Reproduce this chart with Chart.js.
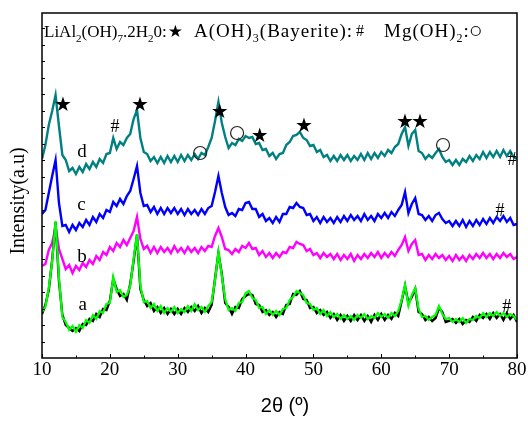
<!DOCTYPE html>
<html>
<head>
<meta charset="utf-8">
<script src="https://cdn.jsdelivr.net/npm/chart.js@4.4.0/dist/chart.umd.min.js"></script>
<style>
  html, body { margin: 0; padding: 0; background: #fff; }
  #wrap { width: 528px; height: 425px; }
</style>
</head>
<body>
<div id="wrap"><canvas id="xrdChart" width="528" height="425"></canvas></div>
<script>
// 2-theta sampling grid (degrees), 10 to 80 every 0.5
const twoTheta = [];
for (let i = 0; i <= 140; i++) twoTheta.push(10 + i * 0.5);

// intensities (arbitrary units, traces already stacked)
const sampleA = [
  46, 51, 70, 97, 137, 80, 41, 36, 28, 32,
  26, 33, 30, 38, 35, 43, 39, 47, 45, 54,
  55, 81, 66, 68, 61, 63, 72, 99, 124, 72,
  56, 57, 50, 54, 47, 52, 45, 50, 46, 51,
  45, 49, 46, 52, 47, 54, 48, 51, 46, 52,
  56, 78, 106, 82, 59, 48, 50, 47, 55, 56,
  65, 67, 60, 58, 50, 51, 44, 48, 43, 47,
  43, 49, 50, 58, 61, 67, 65, 63, 55, 54,
  48, 50, 44, 48, 42, 46, 41, 44, 39, 43,
  39, 42, 38, 43, 40, 44, 39, 42, 40, 45,
  41, 44, 40, 45, 42, 47, 58, 73, 52, 63,
  70, 49, 41, 42, 38, 41, 43, 52, 44, 39,
  40, 36, 39, 36, 40, 35, 39, 38, 42, 40,
  45, 41, 45, 42, 46, 42, 45, 41, 44, 42,
  38
];
const sampleARaw = [
  44, 53, 68, 98, 136, 77, 43, 33, 30, 27,
  30, 27, 34, 33, 39, 37, 44, 41, 49, 48,
  57, 79, 69, 62, 64, 58, 74, 97, 123, 69,
  58, 52, 55, 47, 51, 45, 50, 44, 49, 44,
  49, 44, 50, 46, 51, 47, 52, 45, 50, 46,
  53, 79, 105, 84, 55, 51, 44, 51, 50, 59,
  62, 64, 63, 54, 53, 46, 48, 43, 46, 41,
  46, 44, 53, 54, 64, 63, 67, 59, 58, 50,
  51, 45, 48, 43, 46, 40, 44, 38, 43, 37,
  42, 37, 43, 38, 43, 37, 42, 36, 43, 38,
  44, 38, 43, 39, 45, 42, 57, 72, 55, 61,
  69, 46, 44, 38, 41, 37, 40, 50, 46, 36,
  37, 39, 35, 39, 34, 38, 36, 41, 37, 43,
  40, 44, 39, 45, 40, 44, 38, 45, 39, 43,
  36
];
const sampleB = [
  92, 94, 108, 115, 131, 109, 99, 89, 93, 85,
  92, 88, 95, 91, 98, 94, 102, 98, 106, 103,
  111, 107, 115, 111, 118, 113, 120, 127, 141, 119,
  109, 112, 105, 111, 105, 111, 106, 110, 105, 112,
  106, 110, 105, 111, 106, 110, 105, 111, 107, 112,
  111, 122, 130, 121, 109, 108, 104, 109, 106, 112,
  110, 115, 109, 110, 103, 107, 101, 105, 100, 105,
  101, 106, 105, 111, 110, 116, 114, 113, 107, 109,
  103, 105, 100, 105, 101, 104, 99, 104, 98, 103,
  99, 104, 97, 103, 99, 104, 100, 105, 101, 106,
  100, 105, 101, 106, 102, 108, 113, 121, 107, 114,
  118, 103, 104, 98, 103, 99, 104, 100, 103, 98,
  102, 97, 103, 98, 102, 97, 103, 99, 104, 100,
  105, 100, 104, 99, 104, 100, 105, 101, 104, 99,
  101
];
const sampleC = [
  144, 148, 165, 182, 198, 155, 132, 133, 126, 133,
  128, 135, 131, 138, 133, 141, 136, 144, 140, 148,
  146, 156, 152, 159, 154, 162, 167, 179, 192, 165,
  152, 153, 146, 151, 144, 150, 144, 150, 145, 150,
  144, 149, 143, 149, 144, 148, 143, 149, 144, 150,
  152, 166, 182, 165, 151, 143, 145, 142, 149, 148,
  155, 156, 149, 149, 141, 144, 137, 140, 135, 141,
  136, 144, 144, 151, 150, 155, 151, 150, 143, 144,
  137, 141, 135, 141, 136, 140, 135, 141, 136, 142,
  137, 143, 138, 142, 137, 144, 138, 142, 137, 144,
  140, 145, 140, 146, 142, 148, 153, 166, 145, 154,
  160, 144, 143, 138, 142, 137, 143, 145, 139, 135,
  137, 132, 137, 132, 138, 131, 137, 132, 138, 133,
  139, 134, 140, 135, 141, 137, 142, 136, 140, 133,
  134
];
const sampleD = [
  199, 213, 233, 247, 263, 232, 203, 198, 187, 190,
  184, 191, 186, 194, 189, 196, 191, 199, 195, 204,
  205, 220, 209, 216, 213, 220, 224, 239, 248, 220,
  206, 204, 197, 201, 195, 201, 195, 202, 196, 202,
  196, 203, 197, 203, 198, 204, 199, 205, 203, 211,
  220, 237, 256, 235, 221, 210, 215, 213, 219, 217,
  222, 220, 221, 214, 215, 208, 209, 202, 205, 199,
  204, 205, 213, 216, 222, 223, 226, 220, 218, 212,
  213, 206, 208, 201, 203, 197, 202, 197, 203, 198,
  203, 197, 202, 198, 204, 198, 205, 199, 205, 200,
  206, 202, 208, 205, 211, 214, 224, 231, 212, 224,
  228, 207, 205, 199, 203, 200, 205, 209, 201, 196,
  198, 193, 198, 193, 199, 196, 202, 197, 203, 199,
  206, 200, 206, 201, 207, 201, 208, 202, 207, 201,
  199
];
const xTicks = [10, 20, 30, 40, 50, 60, 70, 80];

// phase markers placed in data coordinates (2theta, intensity)
const starMarks = [[13.1, 252], [24.45, 252], [36.2, 245], [42.1, 221], [48.6, 231], [63.5, 235], [65.7, 235]];
const circleMarks = [[33.3, 205], [38.75, 225], [69.1, 213]];
const hashMarks = [[20.75, 231], [79.25, 198], [77.5, 147], [78.5, 51]];
const traceLabels = [['d', 15.9, 206], ['c', 15.8, 153], ['b', 15.9, 101], ['a', 16.0, 53]];

function toPoints(values) {
    return values.map((v, i) => ({ x: twoTheta[i], y: v }));
}

const SERIF = '"Liberation Serif", "Times New Roman", serif';

function drawRun(ctx, parts, x, base, size, spacing) {
    ctx.letterSpacing = spacing + 'px';
    parts.forEach(p => {
        const sub = p[1];
        ctx.font = (sub ? Math.round(size * 0.62) : size) + 'px ' + SERIF;
        ctx.fillText(p[0], x, base + (sub ? 5 : 0));
        x += ctx.measureText(p[0]).width;
    });
    ctx.letterSpacing = '0px';
    return x;
}

const decorPlugin = {
    id: 'decor',
    afterDatasetsDraw(chart) {
        const ctx = chart.ctx;
        const a = chart.chartArea;
        const xs = chart.scales.x;
        const ys = chart.scales.y;
        ctx.save();

        // frame
        ctx.strokeStyle = '#000';
        ctx.lineWidth = 1.5;
        ctx.strokeRect(a.left, a.top, a.right - a.left, a.bottom - a.top);

        // inward ticks
        ctx.lineWidth = 1;
        ctx.beginPath();
        for (let t = 10; t <= 80; t += 5) {
            const px = Math.round(xs.getPixelForValue(t)) + 0.5;
            ctx.moveTo(px, a.bottom);
            ctx.lineTo(px, a.bottom - (t % 10 === 0 ? 4 : 2.5));
        }
        for (let v = 16.5; v < 345; v += 16.5) {
            const py = Math.round(ys.getPixelForValue(v)) + 0.5;
            ctx.moveTo(a.left, py);
            ctx.lineTo(a.left + 3, py);
        }
        ctx.stroke();

        // markers
        ctx.fillStyle = '#000';
        ctx.textAlign = 'center';
        ctx.textBaseline = 'middle';
        ctx.font = '20px "DejaVu Sans"';
        starMarks.forEach(m => ctx.fillText('\u2605', xs.getPixelForValue(m[0]), ys.getPixelForValue(m[1])));
        ctx.font = '18px ' + SERIF;
        hashMarks.forEach(m => ctx.fillText('#', xs.getPixelForValue(m[0]), ys.getPixelForValue(m[1])));
        ctx.strokeStyle = '#222';
        ctx.lineWidth = 1.2;
        circleMarks.forEach(m => {
            ctx.beginPath();
            ctx.arc(xs.getPixelForValue(m[0]), ys.getPixelForValue(m[1]), 6.5, 0, Math.PI * 2);
            ctx.stroke();
        });
        ctx.font = '19px ' + SERIF;
        traceLabels.forEach(l => ctx.fillText(l[0], xs.getPixelForValue(l[1]), ys.getPixelForValue(l[2])));

        // phase key along the top
        ctx.textAlign = 'left';
        ctx.textBaseline = 'alphabetic';
        const base = a.top + 24;
        let x = drawRun(ctx, [['LiAl'], ['2', 1], ['(OH)'], ['7', 1], ['.2H'], ['2', 1], ['0:']], a.left + 2, base, 17, 0);
        ctx.font = '17px "DejaVu Sans"';
        ctx.fillText('\u2605', x + 1, base);
        x = drawRun(ctx, [['A(OH)'], ['3', 1], ['(Bayerite):']], a.left + 152, base, 19, 1);
        ctx.font = '16px ' + SERIF;
        ctx.fillText('#', x + 3, base - 1);
        x = drawRun(ctx, [['Mg(OH)'], ['2', 1], [':']], a.left + 342, base, 19, 1);
        ctx.beginPath();
        ctx.arc(x + 6, base - 6, 4.5, 0, Math.PI * 2);
        ctx.stroke();

        // axis titles
        ctx.textAlign = 'center';
        ctx.textBaseline = 'middle';
        ctx.font = '20px "Liberation Sans", Arial, sans-serif';
        ctx.fillText('2\u03B8 (\u00BA)', 285, 406);
        ctx.translate(19, 201);
        ctx.rotate(-Math.PI / 2);
        ctx.font = '20px ' + SERIF;
        ctx.fillText('Intensity(a.u)', 0, 0);

        ctx.restore();
    }
};

const config = {
    type: 'line',
    data: {
        datasets: [
            { label: 'a', data: toPoints(sampleA), borderColor: '#00ff00', borderWidth: 2.2, order: 0 },
            { label: 'a raw', data: toPoints(sampleARaw), borderColor: '#000000', borderWidth: 2.4, order: 1 },
            { label: 'b', data: toPoints(sampleB), borderColor: '#ff00ff', borderWidth: 2.4, order: 2 },
            { label: 'c', data: toPoints(sampleC), borderColor: '#0000ff', borderWidth: 2.4, order: 3 },
            { label: 'd', data: toPoints(sampleD), borderColor: '#008080', borderWidth: 2.4, order: 4 }
        ]
    },
    options: {
        responsive: false,
        animation: false,
        devicePixelRatio: 1,
        layout: { padding: { top: 13, right: 11, left: 0, bottom: 0 } },
        elements: { point: { radius: 0 }, line: { tension: 0 } },
        scales: {
            x: {
                type: 'linear',
                min: 10,
                max: 80,
                afterFit: s => { s.height = 67; },
                afterBuildTicks: s => { s.ticks = xTicks.map(v => ({ value: v })); },
                grid: { display: false, drawTicks: false },
                border: { display: false },
                ticks: {
                    color: '#000',
                    padding: 1,
                    maxRotation: 0,
                    font: { family: SERIF, size: 19 }
                }
            },
            y: {
                min: 0,
                max: 345,
                afterFit: s => { s.width = 42; },
                grid: { display: false, drawTicks: false },
                border: { display: false },
                ticks: { display: false }
            }
        },
        plugins: {
            legend: { display: false },
            tooltip: { enabled: false }
        }
    },
    plugins: [decorPlugin]
};

new Chart(document.getElementById('xrdChart').getContext('2d'), config);
</script>
</body>
</html>
